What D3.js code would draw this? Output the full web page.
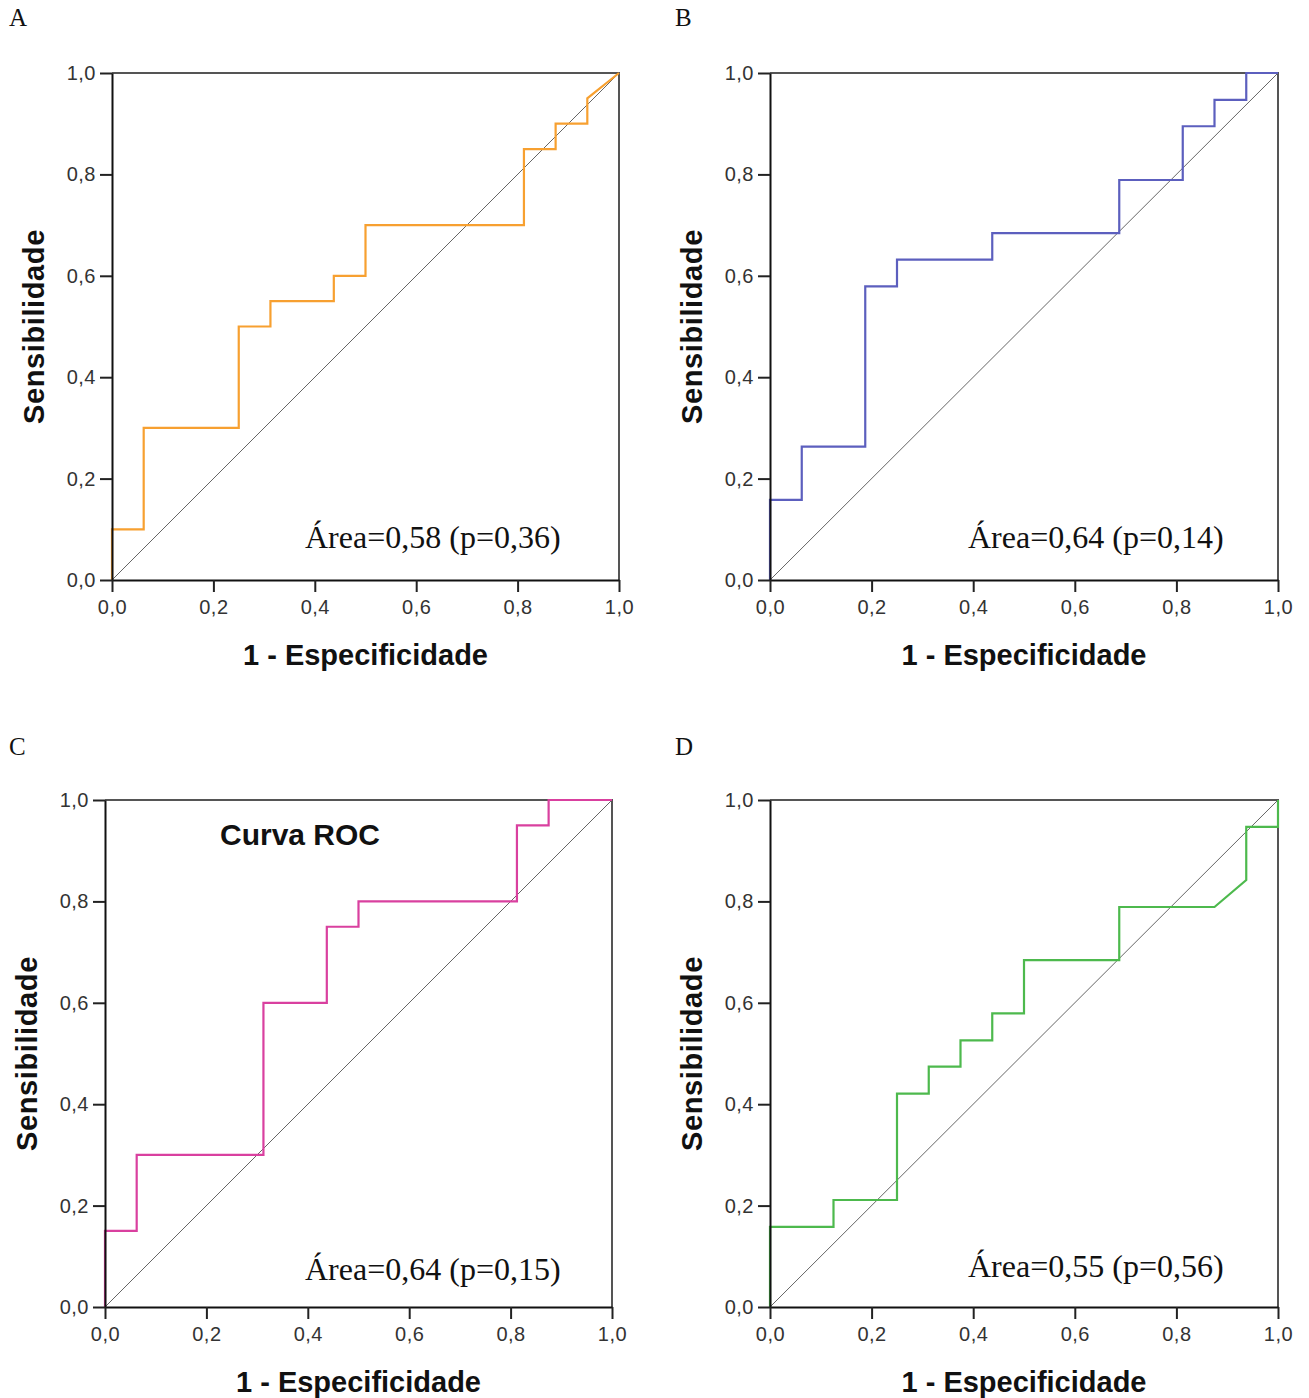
<!DOCTYPE html>
<html>
<head>
<meta charset="utf-8">
<script src="https://cdn.jsdelivr.net/npm/d3@7"></script>
<style>
  body { margin: 0; background: #fff; }
</style>
</head>
<body>
<svg id="chart" width="1309" height="1398"></svg>
<script>
// ROC points (1 - especificidade, sensibilidade)
var fprA = [0, 0, 0.0625, 0.0625, 0.25, 0.25, 0.3125, 0.3125, 0.4375, 0.4375, 0.5, 0.5, 0.8125, 0.8125, 0.875, 0.875, 0.9375, 0.9375, 1];
var tprA = [0, 0.1, 0.1, 0.3, 0.3, 0.5, 0.5, 0.55, 0.55, 0.6, 0.6, 0.7, 0.7, 0.85, 0.85, 0.9, 0.9, 0.95, 1];

var fprB = [0, 0, 0.0625, 0.0625, 0.1875, 0.1875, 0.25, 0.25, 0.4375, 0.4375, 0.6875, 0.6875, 0.8125, 0.8125, 0.875, 0.875, 0.9375, 0.9375, 1];
var tprB = [0, 0.158, 0.158, 0.263, 0.263, 0.579, 0.579, 0.632, 0.632, 0.684, 0.684, 0.789, 0.789, 0.895, 0.895, 0.947, 0.947, 1, 1];

var fprC = [0, 0, 0.0625, 0.0625, 0.3125, 0.3125, 0.4375, 0.4375, 0.5, 0.5, 0.8125, 0.8125, 0.875, 0.875, 1];
var tprC = [0, 0.15, 0.15, 0.3, 0.3, 0.6, 0.6, 0.75, 0.75, 0.8, 0.8, 0.95, 0.95, 1, 1];

var fprD = [0, 0, 0.125, 0.125, 0.25, 0.25, 0.3125, 0.3125, 0.375, 0.375, 0.4375, 0.4375, 0.5, 0.5, 0.6875, 0.6875, 0.875, 0.9375, 0.9375, 1, 1];
var tprD = [0, 0.158, 0.158, 0.211, 0.211, 0.421, 0.421, 0.474, 0.474, 0.526, 0.526, 0.579, 0.579, 0.684, 0.684, 0.789, 0.789, 0.842, 0.947, 0.947, 1];

var tickVals = [0, 0.2, 0.4, 0.6, 0.8, 1.0];
var tickLabels = ["0,0", "0,2", "0,4", "0,6", "0,8", "1,0"];

var panelLetters = ["A", "B", "C", "D"];
var areaLabels = ["Área=0,58 (p=0,36)", "Área=0,64 (p=0,14)", "Área=0,64 (p=0,15)", "Área=0,55 (p=0,56)"];
var lineColors = ["#f7a030", "#5c5fbe", "#d9409f", "#4db94d"];

var SANS = '"Liberation Sans", Arial, sans-serif',
    SERIF = '"Liberation Serif", "Times New Roman", serif';

var svg = d3.select('#chart');

// layout of each panel (plot box + where its little texts go)
var panels = [
    {x: fprA, y: tprA, left: 112, top: 73, w: 507, h: 507, letterX: 9,   letterY: 26,  areaX: 305, areaY: 548},
    {x: fprB, y: tprB, left: 770, top: 73, w: 508, h: 507, letterX: 675, letterY: 26,  areaX: 968, areaY: 548},
    {x: fprC, y: tprC, left: 105, top: 800, w: 507, h: 507, letterX: 9,  letterY: 755, areaX: 305, areaY: 1280},
    {x: fprD, y: tprD, left: 770, top: 800, w: 508, h: 507, letterX: 675, letterY: 755, areaX: 968, areaY: 1277}
];

function drawPanel(p, i) {
    var g = svg.append('g').attr('transform', 'translate(' + p.left + ',' + p.top + ')');
    var x = d3.scaleLinear().domain([0, 1]).range([0, p.w]);
    var y = d3.scaleLinear().domain([0, 1]).range([p.h, 0]);

    // top + right frame
    g.append('path')
        .attr('d', 'M0,0H' + p.w + 'V' + p.h)
        .attr('fill', 'none')
        .attr('stroke', '#555')
        .attr('stroke-width', 2);

    // reference diagonal
    g.append('line')
        .attr('x1', x(0)).attr('y1', y(0))
        .attr('x2', x(1)).attr('y2', y(1))
        .attr('stroke', '#666')
        .attr('stroke-width', 1);

    // roc curve
    var pts = p.x.map(function (v, k) { return [v, p.y[k]]; });
    var line = d3.line().x(function (d) { return x(d[0]); }).y(function (d) { return y(d[1]); });
    g.append('path')
        .datum(pts)
        .attr('d', line)
        .attr('fill', 'none')
        .attr('stroke', lineColors[i])
        .attr('stroke-width', 2.2);

    // axes
    var fmt = function (d) { return tickLabels[tickVals.indexOf(d)]; };
    var yAx = g.append('g')
        .call(d3.axisLeft(y).tickValues(tickVals).tickFormat(fmt).tickSize(12).tickPadding(4).tickSizeOuter(0));
    var xAx = g.append('g')
        .attr('transform', 'translate(0,' + p.h + ')')
        .call(d3.axisBottom(x).tickValues(tickVals).tickFormat(fmt).tickSize(12).tickPadding(8).tickSizeOuter(0));
    [yAx, xAx].forEach(function (a) {
        a.select('.domain').attr('stroke', '#111').attr('stroke-width', 2);
        a.selectAll('.tick line').attr('stroke', '#222').attr('stroke-width', 2);
        a.selectAll('.tick text')
            .style('font-family', SANS)
            .style('font-size', '20px')
            .style('letter-spacing', '0.5px')
            .attr('fill', '#333');
    });

    // axis titles
    g.append('text')
        .attr('transform', 'translate(' + (-68) + ',' + (p.h / 2) + ') rotate(-90)')
        .attr('text-anchor', 'middle')
        .style('font-family', SANS)
        .style('font-size', '29px')
        .style('letter-spacing', '0.6px')
        .attr('font-weight', 'bold')
        .attr('fill', '#111')
        .text('Sensibilidade');
    g.append('text')
        .attr('x', p.w / 2)
        .attr('y', p.h + 85)
        .attr('text-anchor', 'middle')
        .style('font-family', SANS)
        .style('font-size', '29px')
        .attr('font-weight', 'bold')
        .attr('fill', '#111')
        .text('1 - Especificidade');

    // panel letter + area note
    svg.append('text')
        .attr('x', p.letterX).attr('y', p.letterY)
        .style('font-family', SERIF)
        .style('font-size', '25px')
        .attr('fill', '#111')
        .text(panelLetters[i]);
    svg.append('text')
        .attr('x', p.areaX).attr('y', p.areaY)
        .style('font-family', SERIF)
        .style('font-size', '32px')
        .attr('fill', '#111')
        .text(areaLabels[i]);
}

panels.forEach(drawPanel);

// only panel C carries the chart title
svg.append('text')
    .attr('x', 220).attr('y', 845)
    .style('font-family', SANS)
    .style('font-size', '30px')
    .attr('font-weight', 'bold')
    .attr('fill', '#111')
    .text('Curva ROC');
</script>
</body>
</html>
